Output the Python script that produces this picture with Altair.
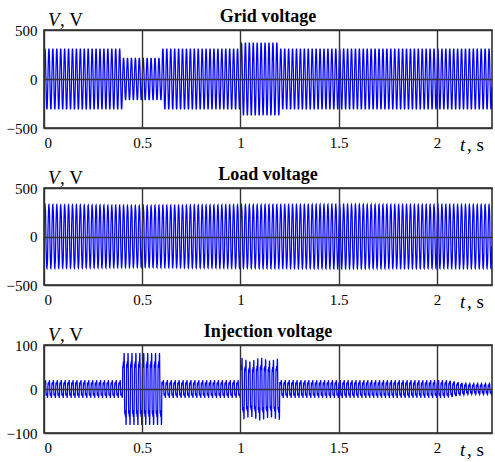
import altair as alt
import numpy as np
import pandas as pd

FONT = "Liberation Serif"
FREQ = 50.0          # Hz, read from stripe spacing
T_END = 2.28         # s, right edge of the plots
SPC = 24             # samples per cycle

# envelope knots (time in s, peak amplitude in V)
grid_t = [0.0, 0.399, 0.401, 0.599, 0.601, 0.999, 1.001, 1.199, 1.201, 2.28]
grid_a = [311, 311, 215, 215, 311, 311, 372, 372, 311, 311]
grid_h = [1.0, 0.0, 0.0]           # fundamental, 3rd, 5th (relative)

load_t = [0.0, 0.5, 1.0, 1.5, 2.0, 2.28]
load_a = [328, 318, 326, 330, 328, 328]
load_h = [1.0, 0.06, 0.05]

inj_t = [0.0, 0.399, 0.401, 0.599, 0.601, 0.999, 1.001, 1.05, 1.1, 1.15, 1.199, 1.201, 2.05, 2.15, 2.28]
inj_a = [20, 20, 82, 82, 20, 20, 72, 62, 72, 64, 70, 20, 20, 12, 12]
inj_h = [1.0, 0.35, 0.2]

x_ticks = [0, 0.5, 1, 1.5, 2]
titles = ["Grid voltage", "Load voltage", "Injection voltage"]

W = 448


def wave(kt, ka, h):
    t = np.arange(0.0, T_END, 1.0 / (FREQ * SPC))
    env = np.interp(t, kt, ka)
    w = 2 * np.pi * FREQ * t
    s = h[0] * np.sin(w) + h[1] * np.sin(3 * w + 0.4) + h[2] * np.sin(5 * w + 1.1)
    s = s / np.max(np.abs(s))
    return pd.DataFrame({"t": t, "v": env * s})


def txt(text, x, y, size=19, style="normal", weight="normal", align="left"):
    lab = pd.DataFrame({"s": [text]})
    return alt.Chart(lab).mark_text(font=FONT, fontSize=size, fontStyle=style, fontWeight=weight,
                                    align=align, baseline="alphabetic", color="black").encode(
        x=alt.value(x), y=alt.value(y), text="s:N")


AX = dict(title=None, grid=True, labelFont=FONT, labelFontSize=15, labelColor="black",
          domain=False, ticks=False, gridColor="#333333", gridWidth=1.4, gridOpacity=1,
          labelPadding=7, zindex=1)


def panel(df, title, dom, yticks, h):
    line = alt.Chart(df).mark_line(color="#0000ff", strokeWidth=1.25, clip=True).encode(
        x=alt.X("t:Q", scale=alt.Scale(domain=[0, T_END], nice=False, zero=False),
                axis=alt.Axis(values=x_ticks, labelExpr="format(datum.value, '~g')", **AX)),
        y=alt.Y("v:Q", scale=alt.Scale(domain=dom, nice=False),
                axis=alt.Axis(values=yticks, **AX)),
    )
    return alt.layer(
        line,
        txt(title, W / 2, -8, size=18, weight="bold", align="center"),
        txt("V", 4, -4, style="italic"),
        txt(", V", 16, -4),
        txt("t", 416, h + 23, style="italic"),
        txt(", s", 423, h + 23),
    ).properties(width=W, height=h)


p1 = panel(wave(grid_t, grid_a, grid_h), titles[0], [-500, 500], [-500, 0, 500], 98)
p2 = panel(wave(load_t, load_a, load_h), titles[1], [-500, 500], [-500, 0, 500], 97)
p3 = panel(wave(inj_t, inj_a, inj_h), titles[2], [-100, 100], [-100, 0, 100], 88)

chart = alt.vconcat(p1, p2, p3, spacing=60, bounds="flush").properties(
    padding={"left": 5, "top": 7, "right": 0, "bottom": 0}, background="white"
).configure_view(stroke="#222222", strokeWidth=1.5)

chart.save("out.html", embed_options={"renderer": "svg", "actions": False})
